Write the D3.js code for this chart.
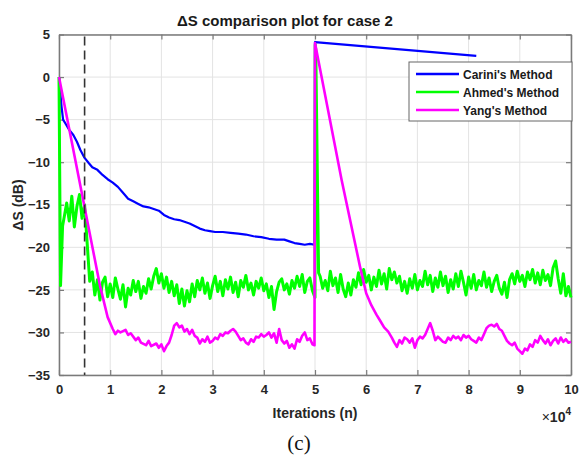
<!DOCTYPE html>
<html>
<head>
<meta charset="utf-8">
<script src="https://cdn.jsdelivr.net/npm/d3@7"></script>
<style>
  body { margin: 0; background: #fff; }
  svg { display: block; font-family: Arial, "Liberation Sans", sans-serif; }
</style>
</head>
<body>
<div id="chart"></div>
<script>
// x in iterations, y in dB
const xTicks = [0, 10000, 20000, 30000, 40000, 50000, 60000, 70000, 80000, 90000, 100000];
const yTicks = [5, 0, -5, -10, -15, -20, -25, -30, -35];
const legendNames = ["Carini's Method", "Ahmed's Method", "Yang's Method"];
const dashedAt = 5000;

const cariniPts = [
  [0, 0], [500, -3.5], [800, -5.0], [1200, -5.4], [2000, -6.2], [2800, -6.8], [3500, -7.6],
  [4200, -8.6], [5000, -9.5], [5800, -10.1], [6500, -10.6], [7500, -10.9], [8500, -11.5],
  [9500, -12.0], [10500, -12.4], [11500, -12.9], [12500, -13.6], [13500, -14.3], [14500, -14.6],
  [15500, -14.9], [16500, -15.2], [17500, -15.3], [18500, -15.5], [19500, -15.7], [20500, -16.2],
  [21500, -16.5], [22500, -16.7], [23500, -16.8], [24500, -17.0], [25500, -17.2], [26500, -17.5],
  [27500, -17.8], [28500, -18.0], [29500, -18.1], [30500, -18.2], [32000, -18.2], [33500, -18.3],
  [35000, -18.4], [36500, -18.5], [38000, -18.7], [39500, -18.8], [41000, -19.0], [42500, -19.1],
  [44000, -19.1], [45000, -19.3], [46000, -19.5], [47000, -19.6], [48000, -19.7], [49000, -19.6],
  [49900, -19.7], [50000, 4.1], [81500, 2.5]
];

// Ahmed: sparse start / jump points plus two blocks sampled every 500 iterations
const ahmedStart = [[0, 0], [300, -24.5], [700, -17.5]];
const ahmedBlock1Start = 1000;
const ahmedBlock1 = [
  -16.5, -14.8, -16.9, -14.0, -17.6, -15.2, -13.8, -16.6, -15.0, -19.5,
  -24.0, -22.9, -25.6, -23.8, -26.2, -24.1, -23.5, -25.8, -24.3, -25.9,
  -23.6, -24.9, -26.1, -24.4, -27.0, -24.8, -25.6, -23.9, -25.2, -24.0,
  -26.0, -24.6, -25.4, -23.7, -24.9, -23.4, -22.5, -24.2, -23.1, -24.8,
  -23.5, -25.3, -24.0, -25.7, -24.4, -26.6, -24.9, -26.9, -25.1, -26.4,
  -24.3, -25.8, -23.9, -25.0, -23.6, -25.4, -24.2, -26.0, -24.5, -23.4,
  -25.2, -24.0, -25.7, -23.8, -24.9, -23.5, -25.3, -24.1, -25.8, -23.9,
  -24.7, -23.3, -25.0, -24.2, -25.6, -24.0, -24.8, -23.6, -25.1, -24.3,
  -25.9, -24.6, -27.3, -25.2, -24.1, -23.7, -25.0, -24.3, -25.5, -23.9,
  -24.8, -23.4, -24.6, -23.2, -25.3, -24.0, -23.6, -25.1, -25.9
];
const ahmedJump = [[50050, 3.8], [50150, 3.2], [50700, -23.0]];
const ahmedBlock2Start = 51000;
const ahmedBlock2 = [
  -23.4, -24.8, -23.9, -25.1, -22.8, -24.5, -23.6, -25.3, -23.2, -24.9,
  -25.8, -24.2, -25.6, -23.8, -24.7, -23.0, -24.4, -22.6, -24.1, -23.3,
  -25.0, -23.5, -24.6, -22.7, -24.3, -23.1, -24.9, -22.5, -23.8, -22.9,
  -24.2, -23.4, -25.1, -24.0, -25.4, -23.7, -24.8, -23.2, -25.0, -23.9,
  -24.6, -22.8, -24.4, -23.3, -25.2, -23.6, -24.7, -22.9, -24.5, -23.4,
  -25.3, -23.8, -24.9, -23.1, -24.6, -22.8, -24.1, -25.6, -23.5, -24.8,
  -23.2, -25.0, -23.9, -24.5, -22.9, -24.7, -23.6, -25.2, -24.0, -23.3,
  -24.8, -25.5, -24.1, -25.9, -23.8, -23.1, -24.3, -22.8, -24.0, -23.3,
  -24.6, -22.9, -23.8, -22.6, -24.2, -23.0, -24.4, -22.7, -23.9, -23.2,
  -24.5, -22.4, -21.6, -23.7, -25.4, -23.1, -25.7, -24.6, -25.9
];

const yangPts = [
  [0, 0], [5000, -15.3], [8000, -24.5], [9500, -28.2], [10500, -29.6], [11000, -30.2],
  [11500, -29.8], [12000, -30.0], [13000, -29.7], [13500, -30.3], [14000, -30.1], [15000, -30.9],
  [15500, -30.6], [16000, -31.2], [17000, -31.5], [17500, -31.0], [18000, -31.6], [19000, -31.3],
  [19500, -31.8], [20000, -31.4], [20500, -32.2], [21000, -31.6], [21500, -31.2], [22000, -30.3],
  [22500, -29.2], [23000, -28.9], [23500, -29.4], [24000, -29.2], [24500, -29.9], [25000, -29.6],
  [25500, -30.2], [26000, -29.7], [26500, -30.4], [27000, -30.6], [27500, -31.3], [28000, -30.8],
  [28500, -31.1], [29000, -30.5], [29500, -31.2], [30000, -31.0], [30500, -30.6], [31000, -30.8],
  [31500, -30.2], [32000, -30.4], [32500, -30.0], [33000, -30.1], [33500, -29.8], [34000, -29.6],
  [34500, -29.9], [35000, -30.4], [35500, -30.9], [36000, -30.7], [36500, -31.2], [37000, -31.4],
  [37500, -30.8], [38000, -31.1], [38500, -30.5], [39000, -30.6], [39500, -30.2], [40000, -30.5],
  [40500, -30.3], [41000, -30.0], [41500, -30.6], [42000, -30.1], [42500, -31.2], [43000, -29.6],
  [43500, -30.9], [44000, -31.3], [44500, -31.0], [45000, -31.8], [45500, -31.4], [46000, -31.9],
  [46500, -30.8], [47000, -31.1], [47500, -30.4], [48000, -30.0], [48500, -30.9], [49000, -30.7],
  [49500, -31.4], [49900, -31.5], [50000, 4.0], [55200, -12.1], [58800, -22.3], [60000, -25.4],
  [61000, -26.8], [62000, -27.9], [62700, -28.6], [63500, -29.4], [64300, -29.9], [65000, -30.6],
  [65500, -31.2], [66000, -31.7], [66500, -30.9], [67000, -31.3], [67500, -30.6], [68000, -30.8],
  [68500, -31.2], [69000, -30.7], [69500, -31.8], [70000, -30.9], [70500, -30.5], [71000, -30.7],
  [71500, -30.3], [72000, -29.6], [72500, -28.9], [73000, -29.8], [73500, -30.9], [74000, -30.5],
  [74500, -30.8], [75000, -31.1], [75500, -31.2], [76000, -30.6], [76500, -30.9], [77000, -30.4],
  [77500, -30.7], [78000, -30.5], [78500, -30.9], [79000, -30.3], [79500, -30.6], [80000, -30.4],
  [80500, -30.8], [81000, -31.0], [81500, -31.2], [82000, -30.6], [82500, -30.9], [83000, -30.2],
  [83500, -29.5], [84000, -29.2], [84500, -29.1], [85000, -29.3], [85500, -29.0], [86000, -29.6],
  [86500, -29.8], [87000, -30.4], [87500, -31.0], [88000, -31.3], [88500, -31.5], [89000, -31.2],
  [89500, -31.9], [90000, -32.2], [90500, -32.5], [91000, -31.9], [91500, -32.1], [92000, -31.4],
  [92500, -31.7], [93000, -30.9], [93500, -31.2], [94000, -30.4], [94500, -30.9], [95000, -31.3],
  [95500, -30.8], [96000, -31.5], [96500, -31.0], [97000, -30.7], [97500, -31.3], [98000, -30.6],
  [98500, -31.1], [99000, -30.8], [99500, -31.2], [100000, -31.1]
];

const ahmedPts = ahmedStart
  .concat(ahmedBlock1.map((v, i) => [ahmedBlock1Start + i * 500, v]))
  .concat(ahmedJump)
  .concat(ahmedBlock2.map((v, i) => [ahmedBlock2Start + i * 500, v]));

const series = [
  {name: legendNames[0], pts: cariniPts, color: "#0000ff", width: 2.2},
  {name: legendNames[1], pts: ahmedPts, color: "#00ff00", width: 3},
  {name: legendNames[2], pts: yangPts, color: "#ff00ff", width: 2.6}
];

const W = 579, H = 460;
const margin = {top: 34.5, right: 8, bottom: 85, left: 59};
const w = W - margin.left - margin.right, h = H - margin.top - margin.bottom;

const svg = d3.select("#chart").append("svg").attr("width", W).attr("height", H);
const g = svg.append("g").attr("transform", "translate(" + margin.left + "," + margin.top + ")");

const x = d3.scaleLinear().domain([0, 100000]).range([0, w]);
const y = d3.scaleLinear().domain([-35, 5]).range([h, 0]);

// grid
g.append("g").selectAll("line.vg").data(xTicks).enter().append("line")
  .attr("x1", d => x(d)).attr("x2", d => x(d)).attr("y1", 0).attr("y2", h)
  .attr("stroke", "#e3e3e3").attr("stroke-width", 1);
g.append("g").selectAll("line.hg").data(yTicks).enter().append("line")
  .attr("y1", d => y(d)).attr("y2", d => y(d)).attr("x1", 0).attr("x2", w)
  .attr("stroke", "#e3e3e3").attr("stroke-width", 1);

// axes
const axisColor = "#7a7a7a";
const xAxis = g.append("g").attr("transform", "translate(0," + h + ")")
  .call(d3.axisBottom(x).tickValues(xTicks).tickSizeInner(-5).tickSizeOuter(0).tickPadding(10)
    .tickFormat(d => d / 10000));
const xTop = g.append("g")
  .call(d3.axisTop(x).tickValues(xTicks).tickSizeInner(-5).tickSizeOuter(0).tickFormat(""));
const yAxis = g.append("g")
  .call(d3.axisLeft(y).tickValues(yTicks).tickSizeInner(-5).tickSizeOuter(0).tickPadding(9));
const yRight = g.append("g").attr("transform", "translate(" + w + ",0)")
  .call(d3.axisRight(y).tickValues(yTicks).tickSizeInner(-5).tickSizeOuter(0).tickFormat(""));

[xAxis, xTop, yAxis, yRight].forEach(a => {
  a.select(".domain").attr("stroke", axisColor).attr("stroke-width", 1.5);
  a.selectAll(".tick line").attr("stroke", axisColor).attr("stroke-width", 1.2);
  a.selectAll(".tick text").attr("fill", "#262626").style("font-size", "13px").style("font-weight", "bold");
});

// lines
const line = d3.line().x(d => x(d[0])).y(d => y(d[1]));
g.append("g").selectAll("path.series").data(series).enter().append("path")
  .attr("d", d => line(d.pts))
  .attr("fill", "none")
  .attr("stroke", d => d.color)
  .attr("stroke-width", d => d.width)
  .attr("stroke-linejoin", "round");

// dashed marker
g.append("line")
  .attr("x1", x(dashedAt)).attr("x2", x(dashedAt)).attr("y1", 2).attr("y2", h)
  .attr("stroke", "#333").attr("stroke-width", 1.6).attr("stroke-dasharray", "9,5");

// legend
const leg = svg.append("g").attr("transform", "translate(409,62)");
leg.append("rect").attr("width", 163).attr("height", 59)
  .attr("fill", "#fff").attr("stroke", "#666").attr("stroke-width", 1);
const li = leg.selectAll("g.li").data(series).enter().append("g")
  .attr("transform", (d, i) => "translate(0," + (12 + i * 18) + ")");
li.append("line").attr("x1", 7).attr("x2", 50).attr("y1", 0).attr("y2", 0)
  .attr("stroke", d => d.color).attr("stroke-width", 2.6);
li.append("text").attr("x", 54).attr("y", 4.5).text(d => d.name)
  .style("font-size", "12px").style("font-weight", "bold").attr("fill", "#1a1a1a");

// title and labels
svg.append("text").attr("x", 285).attr("y", 26).attr("text-anchor", "middle")
  .style("font-size", "15px").style("font-weight", "bold").attr("fill", "#1a1a1a")
  .text("\u0394S comparison plot for case 2");
svg.append("text").attr("transform", "translate(23,205) rotate(-90)").attr("text-anchor", "middle")
  .style("font-size", "14px").style("font-weight", "bold").attr("fill", "#262626")
  .text("\u0394S (dB)");
svg.append("text").attr("x", 315).attr("y", 418).attr("text-anchor", "middle")
  .style("font-size", "14px").style("font-weight", "bold").attr("fill", "#262626")
  .text("Iterations (n)");
const mult = svg.append("text").attr("x", 571).attr("y", 422).attr("text-anchor", "end")
  .style("font-size", "14px").attr("fill", "#262626");
mult.append("tspan").text("\u00d7");
mult.append("tspan").style("font-weight", "bold").text("10");
mult.append("tspan").attr("dy", -7).style("font-size", "10px").style("font-weight", "bold").text("4");
svg.append("text").attr("x", 299).attr("y", 450).attr("text-anchor", "middle")
  .style("font-family", "'Liberation Serif', 'Times New Roman', serif").style("font-size", "21px")
  .attr("fill", "#111").text("(c)");
</script>
</body>
</html>
